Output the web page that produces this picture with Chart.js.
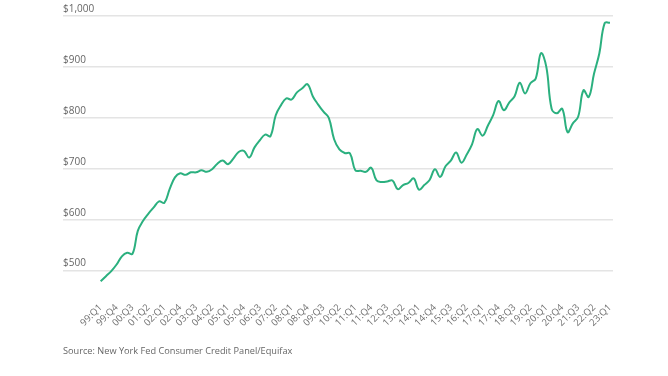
<!DOCTYPE html>
<html><head><meta charset="utf-8">
<script src="https://cdn.jsdelivr.net/npm/chart.js@4"></script>
<style>html,body{margin:0;padding:0;background:#fff;}</style>
</head><body>
<canvas id="c" width="668" height="376"></canvas>
<script>
const quarters = [
'99:Q1','99:Q2','99:Q3','99:Q4','00:Q1','00:Q2','00:Q3','00:Q4',
'01:Q1','01:Q2','01:Q3','01:Q4','02:Q1','02:Q2','02:Q3','02:Q4',
'03:Q1','03:Q2','03:Q3','03:Q4','04:Q1','04:Q2','04:Q3','04:Q4',
'05:Q1','05:Q2','05:Q3','05:Q4','06:Q1','06:Q2','06:Q3','06:Q4',
'07:Q1','07:Q2','07:Q3','07:Q4','08:Q1','08:Q2','08:Q3','08:Q4',
'09:Q1','09:Q2','09:Q3','09:Q4','10:Q1','10:Q2','10:Q3','10:Q4',
'11:Q1','11:Q2','11:Q3','11:Q4','12:Q1','12:Q2','12:Q3','12:Q4',
'13:Q1','13:Q2','13:Q3','13:Q4','14:Q1','14:Q2','14:Q3','14:Q4',
'15:Q1','15:Q2','15:Q3','15:Q4','16:Q1','16:Q2','16:Q3','16:Q4',
'17:Q1','17:Q2','17:Q3','17:Q4','18:Q1','18:Q2','18:Q3','18:Q4',
'19:Q1','19:Q2','19:Q3','19:Q4','20:Q1','20:Q2','20:Q3','20:Q4',
'21:Q1','21:Q2','21:Q3','21:Q4','22:Q1','22:Q2','22:Q3','22:Q4',
'23:Q1'];

const values = [
479,489,499,512,528,535,533,578,598,612,624,636,633,660,683,691,
688,693,693,697,694,699,710,716,709,720,733,735,722,742,756,767,
764,805,825,838,836,850,858,866,842,826,812,800,758,738,731,730,
697,696,694,702,677,674,675,677,660,668,672,681,659,668,678,699,
684,705,716,732,712,728,748,778,765,785,806,833,815,830,842,869,
848,868,877,927,900,818,809,818,772,789,802,854,841,887,927,986,
987];

const tickLabels = ['99:Q1','99:Q4','00:Q3','01:Q2','02:Q1','02:Q4','03:Q3','04:Q2','05:Q1','05:Q4','06:Q3','07:Q2','08:Q1','08:Q4','09:Q3','10:Q2','11:Q1','11:Q4','12:Q3','13:Q2','14:Q1','14:Q4','15:Q3','16:Q2','17:Q1','17:Q4','18:Q3','19:Q2','20:Q1','20:Q4','21:Q3','22:Q2','23:Q1'];
const yTicks = [500,600,700,800,900,1000];
const sourceText = 'Source: New York Fed Consumer Credit Panel/Equifax';

new Chart(document.getElementById('c'), {
  type: 'line',
  data: {
    datasets: [{
      data: values.map((v, i) => ({x: i, y: v})),
      borderColor: '#2bb07f',
      borderWidth: 2,
      pointRadius: 0,
      tension: 0.4,
      fill: false
    }]
  },
  options: {
    responsive: false,
    animation: false,
    devicePixelRatio: 1,
    layout: {padding: {left: 63, right: 55, top: 16, bottom: 19}},
    plugins: {
      legend: {display: false},
      tooltip: {enabled: false},
      title: {
        display: true, position: 'bottom', align: 'start', text: sourceText,
        color: '#666', font: {family: 'Open Sans', size: 9.2, weight: 'normal', lineHeight: 1.2},
        padding: {top: 15, bottom: 0}
      }
    },
    scales: {
      x: {
        type: 'linear', min: -7.1, max: 96.57,
        grid: {display: false}, border: {display: false},
        afterBuildTicks: s => { s.ticks = tickLabels.map(l => ({value: quarters.indexOf(l)})); },
        afterFit: s => { s.height = 40; s.paddingLeft = 0; s.paddingRight = 0; },
        ticks: {
          autoSkip: false, minRotation: 45, maxRotation: 45, padding: 3,
          color: '#707070', font: {family: 'Open Sans', size: 9.5},
          callback: v => quarters[v]
        }
      },
      y: {
        min: 460, max: 1000,
        afterBuildTicks: s => { s.ticks = yTicks.map(v => ({value: v})); },
        afterFit: s => { s.paddingTop = 0; s.paddingBottom = 0; },
        grid: {color: '#e4e4e4', lineWidth: 1.5, drawTicks: false},
        border: {display: false},
        ticks: {
          mirror: true, padding: 0, labelOffset: -7,
          color: '#666', font: {family: 'Open Sans', size: 10},
          callback: v => '$' + v.toLocaleString('en-US')
        }
      }
    }
  }
});
</script>
</body></html>
